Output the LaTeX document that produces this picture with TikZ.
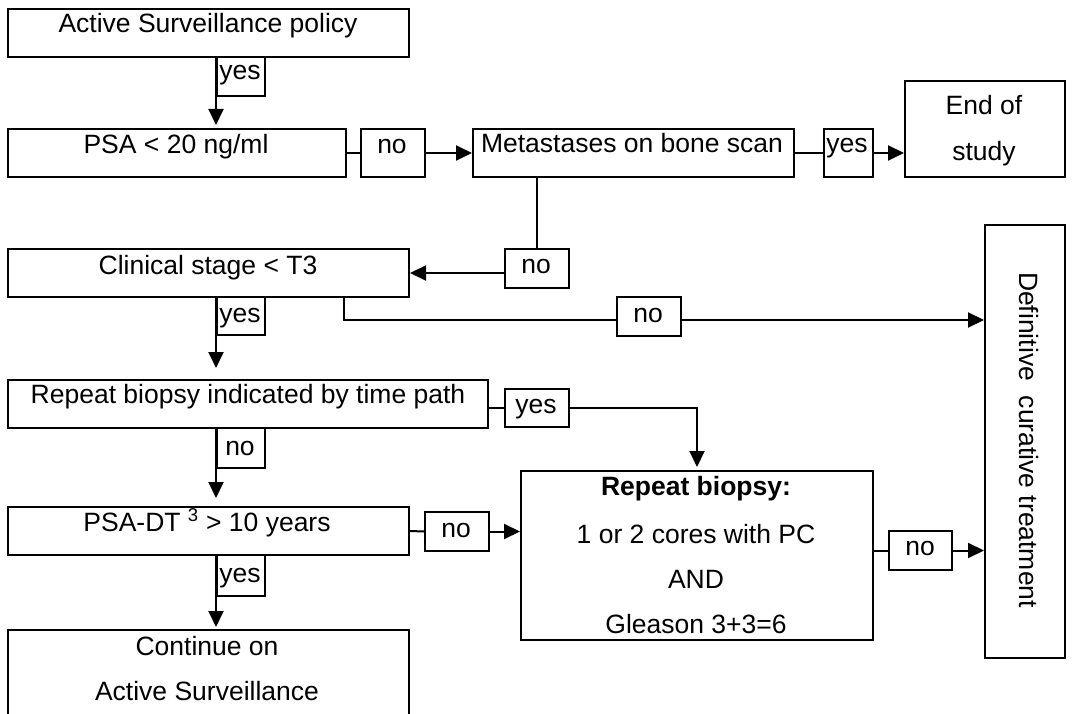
\documentclass[tikz,border=0pt]{standalone}
\usepackage{fontspec}
\setmainfont{Liberation Sans}
\usetikzlibrary{arrows.meta}
\newcommand\diagfs{\fontsize{26.5pt}{32pt}\selectfont}
\tikzset{
  box/.style={draw, line width=2pt, inner sep=0pt, anchor=north west},
  txt/.style={anchor=base, inner sep=0pt, font=\diagfs},
  ln/.style={line width=2pt},
  arr/.style={line width=2pt, -{Triangle[length=16pt,width=15pt]}}
}
\begin{document}
\begin{tikzpicture}[x=1pt,y=-1pt]
\useasboundingbox (0,0) rectangle (1074,714);
\clip (0,0) rectangle (1074,714);
\fill[white] (0,0) rectangle (1074,714);

% boxes
\node[box, minimum width=401pt, minimum height=48pt] (act) at (7,8) {};
\node[box, minimum width=48pt, minimum height=39pt] (y1) at (216,56) {};
\node[box, minimum width=338pt, minimum height=48pt] (psa) at (7,128) {};
\node[box, minimum width=64pt, minimum height=48pt] (n1) at (360,128) {};
\node[box, minimum width=321pt, minimum height=48pt] (met) at (472,128) {};
\node[box, minimum width=49pt, minimum height=48pt] (y2) at (823,128) {};
\node[box, minimum width=160pt, minimum height=96pt] (end) at (904,80) {};
\node[box, minimum width=64pt, minimum height=39pt] (n2) at (504,248) {};
\node[box, minimum width=401pt, minimum height=48pt] (cli) at (7,248) {};
\node[box, minimum width=48pt, minimum height=38pt] (y3) at (216,296) {};
\node[box, minimum width=64pt, minimum height=39pt] (n3) at (616,296) {};
\node[box, minimum width=80pt, minimum height=433pt] (def) at (984,224) {};
\node[box, minimum width=480pt, minimum height=48pt] (rbi) at (7,379) {};
\node[box, minimum width=64pt, minimum height=38pt] (y4) at (504,388) {};
\node[box, minimum width=48pt, minimum height=40pt] (n4) at (216,427) {};
\node[box, minimum width=401pt, minimum height=48pt] (pdt) at (7,506) {};
\node[box, minimum width=64pt, minimum height=39pt] (n5) at (424,511) {};
\node[box, minimum width=352pt, minimum height=169pt] (rb) at (520,470) {};
\node[box, minimum width=63pt, minimum height=39pt] (n6) at (888,530) {};
\node[box, minimum width=48pt, minimum height=41pt] (y5) at (216,554) {};
\node[box, minimum width=401pt, minimum height=120pt] (cont) at (7,629) {};

% texts
\node[txt] (tact) at (208,33) {Active Surveillance policy};
\node[txt] (ty1) at (240,80) {yes};
\node[txt] (tpsa) at (176,154) {PSA < 20 ng/ml};
\node[txt] (tn1) at (392,154) {no};
\node[txt] (tmet) at (632,153) {Metastases on bone scan};
\node[txt] (ty2) at (847,153) {yes};
\node[txt] (tend1) at (984,115) {End of};
\node[txt] (tend2) at (984,161) {study};
\node[txt] (tn2) at (536,273) {no};
\node[txt] (tcli) at (208,274) {Clinical stage < T3};
\node[txt] (ty3) at (240,322) {yes};
\node[txt] (tn3) at (648,322) {no};
\node[txt, rotate=-90] (tdef) at (1019,440) {Definitive\ \ curative treatment};
\node[txt] (trbi) at (248,403) {Repeat biopsy indicated by time path};
\node[txt] (ty4) at (536,413) {yes};
\node[txt] (tn4) at (240,455) {no};
\node[txt] (tpdt) at (207,531) {PSA-DT \textsuperscript{3} > 10 years};
\node[txt] (tn5) at (456,537) {no};
\node[txt] (trb1) at (696,495) {\textbf{Repeat biopsy:}};
\node[txt] (trb2) at (696,543) {1 or 2 cores with PC};
\node[txt] (trb3) at (696,588) {AND};
\node[txt] (trb4) at (696,633) {Gleason 3+3=6};
\node[txt] (tn6) at (920,555) {no};
\node[txt] (ty5) at (240,582) {yes};
\node[txt] (tcont1) at (207,655) {Continue on};
\node[txt] (tcont2) at (207,700) {Active Surveillance};

% connectors
\draw[arr, shorten >=3pt] (act.south -| y1.west) -- (psa.north -| y1.west);
\draw[ln] (psa.east) -- (n1.west);
\draw[arr] (n1.east) -- (met.west);
\draw[ln] (met.east) -- (y2.west);
\draw[arr] (y2.east) -- (y2.east -| end.west);
\draw[ln] (met.south -| n2.north) -- (n2.north);
\draw[arr] (n2.west |- cli.east) -- (cli.east);
\draw[arr, shorten >=11pt] (cli.south -| y3.west) -- (rbi.north -| y3.west);
\coordinate (c1) at (344,320);
\draw[ln] (cli.south -| c1) -- (c1) -- (c1 -| n3.west);
\draw[arr] (c1 -| n3.east) -- (c1 -| def.west);
\draw[ln] (rbi.east |- y4.west) -- (y4.west);
\draw[arr, shorten >=3pt] (y4.east) -- (y4.east -| rb.north) -- (rb.north);
\draw[arr, shorten >=8pt] (rbi.south -| n4.west) -- (pdt.north -| n4.west);
\draw[ln] (pdt.east) -- (n5.west);
\draw[arr] (n5.east) -- (n5.east -| rb.west);
\draw[ln] (rb.east |- n6.west) -- (n6.west);
\draw[arr] (n6.east) -- (n6.east -| def.west);
\draw[arr, shorten >=2pt] (pdt.south -| y5.west) -- (cont.north -| y5.west);
\end{tikzpicture}
\end{document}
